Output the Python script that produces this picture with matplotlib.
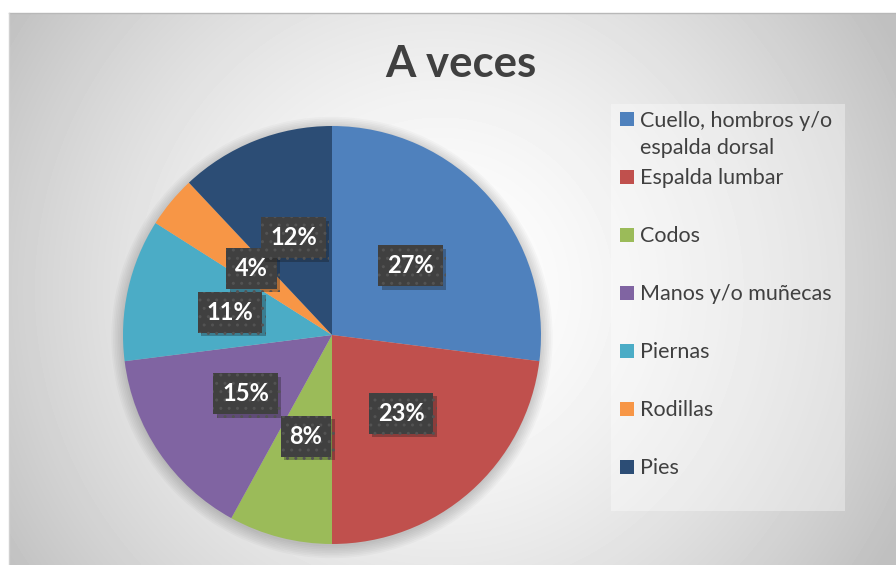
import numpy as np
import matplotlib
matplotlib.use("Agg")
import matplotlib.pyplot as plt
from matplotlib.patches import Rectangle, Circle
from matplotlib import patheffects

plt.rcParams['font.family'] = ['Lato', 'DejaVu Sans']

# data
title = "A veces"
labels = ["Cuello, hombros y/o\nespalda dorsal", "Espalda lumbar", "Codos",
          "Manos y/o muñecas", "Piernas", "Rodillas", "Pies"]
values = [27, 23, 8, 15, 11, 4, 12]
colors = ["#4F81BD", "#C0504D", "#9BBB59", "#8064A2", "#4BACC6", "#F79646", "#2C4D75"]

W, H = 896, 565
fig = plt.figure(figsize=(W / 100, H / 100), dpi=100)
fig.patch.set_facecolor("white")

# background: radial gradient of chart area
x0, y0 = 9, 13
bg = fig.add_axes([x0 / W, 0, (W - x0) / W, (H - y0) / H])
xx, yy = np.meshgrid(np.arange(x0, W), np.arange(y0, H))
r = np.hypot(xx - 440, yy - 290)
v = 1 - 0.25 * np.clip(r / 520, 0, 1) ** 1.6
bg.imshow(v, cmap="gray", vmin=0, vmax=1, aspect="auto", interpolation="bilinear")
bg.axis("off")
fig.add_artist(plt.Line2D([x0 / W, 1], [1 - y0 / H, 1 - y0 / H], color="#b8b8b8", lw=1))
fig.add_artist(plt.Line2D([x0 / W, x0 / W], [0, 1 - y0 / H], color="#d0d0d0", lw=1))

# title
fig.text(461 / W, 1 - 64 / H, title, ha="center", va="center", fontsize=31.5,
         fontweight="bold", color="#404040")

# pie
cx, cy, R = 332, 335, 209
ax = fig.add_axes([(cx - R) / W, (H - cy - R) / H, 2 * R / W, 2 * R / H])
ax.patch.set_visible(False)

# soft shadow around the pie
for k in range(8):
    ax.add_patch(Circle((0.0, -0.012), 1.0 + 0.008 * k, color="black",
                        alpha=0.025, lw=0, clip_on=False, zorder=0))

wedges, _ = ax.pie(values, colors=colors, startangle=90, counterclock=False,
                   radius=1, wedgeprops=dict(linewidth=0))
for w in wedges:
    w.set_zorder(2)
ax.set_xlim(-1, 1)
ax.set_ylim(-1, 1)
ax.axis("off")

for w, val in zip(wedges, values):
    th = np.deg2rad((w.theta1 + w.theta2) / 2)
    t = ax.text(0.5 * np.cos(th), 0.5 * np.sin(th), f"{val}%", ha="center", va="center",
                fontsize=17, fontweight="bold", color="white", zorder=5,
                bbox=dict(boxstyle="square,pad=0.38", facecolor="#404040",
                          edgecolor="#535353", linewidth=0, hatch=".."))
    t.get_bbox_patch().set_path_effects(
        [patheffects.withSimplePatchShadow(offset=(2.5, -2.5), alpha=0.3)])

# legend
fig.patches.append(Rectangle((611 / W, 1 - 511 / H), (845 - 611) / W, (511 - 104) / H,
                             transform=fig.transFigure, facecolor="white",
                             alpha=0.35, lw=0, zorder=1))
for i, (lab, col) in enumerate(zip(labels, colors)):
    yc = 119 + 58 * i
    fig.patches.append(Rectangle((620 / W, 1 - (yc + 7) / H), 14 / W, 14 / H,
                                 transform=fig.transFigure, facecolor=col,
                                 lw=0, zorder=2))
    for j, line in enumerate(lab.split("\n")):
        fig.text(640 / W, 1 - (yc + 7.5 + 28 * j) / H, line, ha="left", va="baseline",
                 fontsize=15.5, color="#404040", zorder=3)

fig.savefig("out.png", dpi=100)
